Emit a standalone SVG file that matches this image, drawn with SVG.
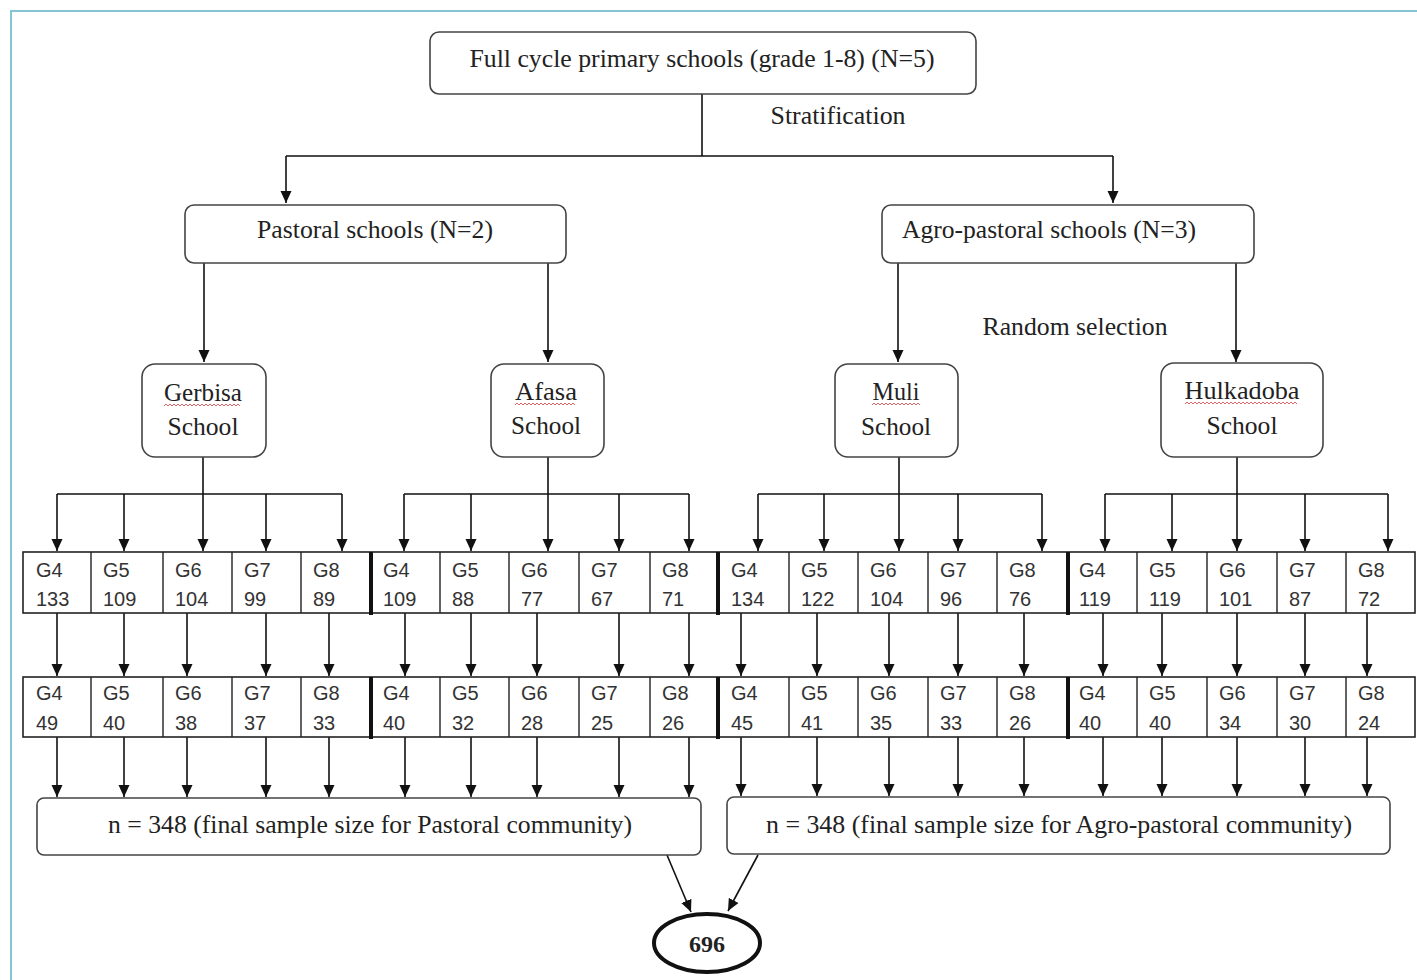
<svg xmlns="http://www.w3.org/2000/svg" width="1417" height="980" viewBox="0 0 1417 980">
<defs>
<marker id="ah" markerUnits="userSpaceOnUse" markerWidth="12" markerHeight="12" refX="12" refY="6" orient="auto"><path d="M0,0.5 L12,6 L0,11.5 z" fill="#111"/></marker>
<style>
.box{fill:#fff;stroke:#444;stroke-width:1.6}
.lbl{font-family:"Liberation Serif","Times New Roman",serif;font-size:25px;fill:#222;text-anchor:middle}
.cell{font-family:"Liberation Sans",Arial,sans-serif;font-size:20px;fill:#333}
.con{fill:none;stroke:#111;stroke-width:1.6}
.arr{fill:none;stroke:#111;stroke-width:1.6;marker-end:url(#ah)}
.tbl{fill:#fff;stroke:#222;stroke-width:1.6}
.div{stroke:#222;stroke-width:1.4}
.thick{stroke:#111;stroke-width:4}
.sq{fill:none;stroke:#d66;stroke-width:1}
</style>
</defs>
<rect x="0" y="0" width="1417" height="980" fill="#fff"/>
<path d="M11,980 L11,11 L1417,11" fill="none" stroke="#86c6d4" stroke-width="2"/>

<g id="connectors">
<path class="con" d="M702,94 V156 M286,156 H1113"/>
<path class="arr" d="M286,156 V203"/>
<path class="arr" d="M1113,156 V203"/>
<path class="arr" d="M204,263 V362"/>
<path class="arr" d="M548,263 V362"/>
<path class="arr" d="M898,263 V362"/>
<path class="arr" d="M1236,263 V362"/>
<!-- school to grade bars -->
<path class="con" d="M203,457 V494 M57,494 H342"/>
<path class="con" d="M548,457 V494 M404,494 H689"/>
<path class="con" d="M899,457 V494 M758,494 H1042"/>
<path class="con" d="M1237,457 V494 M1105,494 H1388"/>
<path class="arr" d="M57,494 V551"/><path class="arr" d="M124,494 V551"/><path class="arr" d="M203,494 V551"/><path class="arr" d="M266,494 V551"/><path class="arr" d="M342,494 V551"/>
<path class="arr" d="M404,494 V551"/><path class="arr" d="M471,494 V551"/><path class="arr" d="M548,494 V551"/><path class="arr" d="M619,494 V551"/><path class="arr" d="M689,494 V551"/>
<path class="arr" d="M758,494 V551"/><path class="arr" d="M824,494 V551"/><path class="arr" d="M899,494 V551"/><path class="arr" d="M958,494 V551"/><path class="arr" d="M1042,494 V551"/>
<path class="arr" d="M1105,494 V551"/><path class="arr" d="M1172,494 V551"/><path class="arr" d="M1237,494 V551"/><path class="arr" d="M1305,494 V551"/><path class="arr" d="M1388,494 V551"/>
<!-- row1 to row2 -->
<path class="arr" d="M57,613 V676"/><path class="arr" d="M124,613 V676"/><path class="arr" d="M187,613 V676"/><path class="arr" d="M266,613 V676"/><path class="arr" d="M329,613 V676"/>
<path class="arr" d="M405,613 V676"/><path class="arr" d="M471,613 V676"/><path class="arr" d="M537,613 V676"/><path class="arr" d="M619,613 V676"/><path class="arr" d="M689,613 V676"/>
<path class="arr" d="M741,613 V676"/><path class="arr" d="M817,613 V676"/><path class="arr" d="M889,613 V676"/><path class="arr" d="M958,613 V676"/><path class="arr" d="M1024,613 V676"/>
<path class="arr" d="M1103,613 V676"/><path class="arr" d="M1162,613 V676"/><path class="arr" d="M1237,613 V676"/><path class="arr" d="M1305,613 V676"/><path class="arr" d="M1367,613 V676"/>
<!-- row2 to totals -->
<path class="arr" d="M57,737 V797"/><path class="arr" d="M124,737 V797"/><path class="arr" d="M187,737 V797"/><path class="arr" d="M266,737 V797"/><path class="arr" d="M329,737 V797"/>
<path class="arr" d="M405,737 V797"/><path class="arr" d="M471,737 V797"/><path class="arr" d="M537,737 V797"/><path class="arr" d="M619,737 V797"/><path class="arr" d="M689,737 V797"/>
<path class="arr" d="M741,737 V796"/><path class="arr" d="M817,737 V796"/><path class="arr" d="M889,737 V796"/><path class="arr" d="M958,737 V796"/><path class="arr" d="M1024,737 V796"/>
<path class="arr" d="M1103,737 V796"/><path class="arr" d="M1162,737 V796"/><path class="arr" d="M1237,737 V796"/><path class="arr" d="M1305,737 V796"/><path class="arr" d="M1367,737 V796"/>
<!-- to 696 -->
<path class="arr" d="M667,855 L691,912"/>
<path class="arr" d="M758,855 L728,911"/>
</g>

<g id="n-full">
<rect class="box" x="430" y="32" width="546" height="62" rx="9"/>
<text class="lbl" x="702" y="67" textLength="465" lengthAdjust="spacingAndGlyphs">Full cycle primary schools (grade 1-8) (N=5)</text>
</g>
<g id="l-strat"><text class="lbl" x="838" y="124" textLength="135" lengthAdjust="spacingAndGlyphs">Stratification</text></g>
<g id="n-pastoral">
<rect class="box" x="185" y="205" width="381" height="58" rx="9"/>
<text class="lbl" x="375" y="238" textLength="236" lengthAdjust="spacingAndGlyphs">Pastoral schools (N=2)</text>
</g>
<g id="n-agro">
<rect class="box" x="882" y="205" width="372" height="58" rx="9"/>
<text class="lbl" x="1049" y="238" textLength="294" lengthAdjust="spacingAndGlyphs">Agro-pastoral schools (N=3)</text>
</g>
<g id="l-random"><text class="lbl" x="1075" y="335" textLength="185" lengthAdjust="spacingAndGlyphs">Random selection</text></g>

<g id="n-gerbisa">
<rect class="box" x="142" y="364" width="124" height="93" rx="13"/>
<text class="lbl" x="203" y="401" textLength="78" lengthAdjust="spacingAndGlyphs">Gerbisa</text>
<text class="lbl" x="203" y="435" textLength="71" lengthAdjust="spacingAndGlyphs">School</text>
<path class="sq" d="M164,406 l2,-2 l2,2 l2,-2 l2,2 l2,-2 l2,2 l2,-2 l2,2 l2,-2 l2,2 l2,-2 l2,2 l2,-2 l2,2 l2,-2 l2,2 l2,-2 l2,2 l2,-2 l2,2 l2,-2 l2,2 l2,-2 l2,2 l2,-2 l2,2 l2,-2 l2,2 l2,-2 l2,2 l2,-2 l2,2 l2,-2 l2,2 l2,-2 l2,2 l2,-2 l2,2"/>
</g>
<g id="n-afasa">
<rect class="box" x="491" y="364" width="113" height="93" rx="13"/>
<text class="lbl" x="546" y="400" textLength="62" lengthAdjust="spacingAndGlyphs">Afasa</text>
<text class="lbl" x="546" y="434" textLength="70" lengthAdjust="spacingAndGlyphs">School</text>
<path class="sq" d="M515,405 l2,-2 l2,2 l2,-2 l2,2 l2,-2 l2,2 l2,-2 l2,2 l2,-2 l2,2 l2,-2 l2,2 l2,-2 l2,2 l2,-2 l2,2 l2,-2 l2,2 l2,-2 l2,2 l2,-2 l2,2 l2,-2 l2,2 l2,-2 l2,2 l2,-2 l2,2 l2,-2 l2,2"/>
</g>
<g id="n-muli">
<rect class="box" x="835" y="364" width="123" height="93" rx="13"/>
<text class="lbl" x="896" y="400" textLength="47" lengthAdjust="spacingAndGlyphs">Muli</text>
<text class="lbl" x="896" y="435" textLength="70" lengthAdjust="spacingAndGlyphs">School</text>
<path class="sq" d="M872,405 l2,-2 l2,2 l2,-2 l2,2 l2,-2 l2,2 l2,-2 l2,2 l2,-2 l2,2 l2,-2 l2,2 l2,-2 l2,2 l2,-2 l2,2 l2,-2 l2,2 l2,-2 l2,2 l2,-2 l2,2 l2,-2 l2,2"/>
</g>
<g id="n-hulkadoba">
<rect class="box" x="1161" y="363" width="162" height="94" rx="13"/>
<text class="lbl" x="1242" y="399" textLength="115" lengthAdjust="spacingAndGlyphs">Hulkadoba</text>
<text class="lbl" x="1242" y="434" textLength="71" lengthAdjust="spacingAndGlyphs">School</text>
<path class="sq" d="M1185,404 l2,-2 l2,2 l2,-2 l2,2 l2,-2 l2,2 l2,-2 l2,2 l2,-2 l2,2 l2,-2 l2,2 l2,-2 l2,2 l2,-2 l2,2 l2,-2 l2,2 l2,-2 l2,2 l2,-2 l2,2 l2,-2 l2,2 l2,-2 l2,2 l2,-2 l2,2 l2,-2 l2,2 l2,-2 l2,2 l2,-2 l2,2 l2,-2 l2,2 l2,-2 l2,2 l2,-2 l2,2 l2,-2 l2,2 l2,-2 l2,2 l2,-2 l2,2 l2,-2 l2,2 l2,-2 l2,2 l2,-2 l2,2 l2,-2 l2,2 l2,-2 l2,2"/>
</g>

<!-- Row 1: population per grade -->
<g id="n-row1">
<rect class="tbl" x="23" y="552" width="1392" height="61"/>
<path class="div" d="M91,552V613 M163,552V613 M232,552V613 M301,552V613 M440,552V613 M509,552V613 M579,552V613 M650,552V613 M789,552V613 M858,552V613 M928,552V613 M997,552V613 M1137,552V613 M1207,552V613 M1277,552V613 M1346,552V613"/>
<path class="thick" d="M371,552V615 M718,552V615 M1068,552V615"/>
</g>
<g id="n-row1-gerbisa" class="cell">
<text x="36" y="577">G4</text><text x="36" y="606">133</text>
<text x="103" y="577">G5</text><text x="103" y="606">109</text>
<text x="175" y="577">G6</text><text x="175" y="606">104</text>
<text x="244" y="577">G7</text><text x="244" y="606">99</text>
<text x="313" y="577">G8</text><text x="313" y="606">89</text>
</g>
<g id="n-row1-afasa" class="cell">
<text x="383" y="577">G4</text><text x="383" y="606">109</text>
<text x="452" y="577">G5</text><text x="452" y="606">88</text>
<text x="521" y="577">G6</text><text x="521" y="606">77</text>
<text x="591" y="577">G7</text><text x="591" y="606">67</text>
<text x="662" y="577">G8</text><text x="662" y="606">71</text>
</g>
<g id="n-row1-muli" class="cell">
<text x="731" y="577">G4</text><text x="731" y="606">134</text>
<text x="801" y="577">G5</text><text x="801" y="606">122</text>
<text x="870" y="577">G6</text><text x="870" y="606">104</text>
<text x="940" y="577">G7</text><text x="940" y="606">96</text>
<text x="1009" y="577">G8</text><text x="1009" y="606">76</text>
</g>
<g id="n-row1-hulkadoba" class="cell">
<text x="1079" y="577">G4</text><text x="1079" y="606">119</text>
<text x="1149" y="577">G5</text><text x="1149" y="606">119</text>
<text x="1219" y="577">G6</text><text x="1219" y="606">101</text>
<text x="1289" y="577">G7</text><text x="1289" y="606">87</text>
<text x="1358" y="577">G8</text><text x="1358" y="606">72</text>
</g>

<!-- Row 2: samples per grade -->
<g id="n-row2">
<rect class="tbl" x="23" y="677" width="1392" height="60"/>
<path class="div" d="M91,677V737 M163,677V737 M232,677V737 M301,677V737 M440,677V737 M509,677V737 M579,677V737 M650,677V737 M789,677V737 M858,677V737 M928,677V737 M997,677V737 M1137,677V737 M1207,677V737 M1277,677V737 M1346,677V737"/>
<path class="thick" d="M371,677V739 M718,677V739 M1068,677V739"/>
</g>
<g id="n-row2-gerbisa" class="cell">
<text x="36" y="700">G4</text><text x="36" y="730">49</text>
<text x="103" y="700">G5</text><text x="103" y="730">40</text>
<text x="175" y="700">G6</text><text x="175" y="730">38</text>
<text x="244" y="700">G7</text><text x="244" y="730">37</text>
<text x="313" y="700">G8</text><text x="313" y="730">33</text>
</g>
<g id="n-row2-afasa" class="cell">
<text x="383" y="700">G4</text><text x="383" y="730">40</text>
<text x="452" y="700">G5</text><text x="452" y="730">32</text>
<text x="521" y="700">G6</text><text x="521" y="730">28</text>
<text x="591" y="700">G7</text><text x="591" y="730">25</text>
<text x="662" y="700">G8</text><text x="662" y="730">26</text>
</g>
<g id="n-row2-muli" class="cell">
<text x="731" y="700">G4</text><text x="731" y="730">45</text>
<text x="801" y="700">G5</text><text x="801" y="730">41</text>
<text x="870" y="700">G6</text><text x="870" y="730">35</text>
<text x="940" y="700">G7</text><text x="940" y="730">33</text>
<text x="1009" y="700">G8</text><text x="1009" y="730">26</text>
</g>
<g id="n-row2-hulkadoba" class="cell">
<text x="1079" y="700">G4</text><text x="1079" y="730">40</text>
<text x="1149" y="700">G5</text><text x="1149" y="730">40</text>
<text x="1219" y="700">G6</text><text x="1219" y="730">34</text>
<text x="1289" y="700">G7</text><text x="1289" y="730">30</text>
<text x="1358" y="700">G8</text><text x="1358" y="730">24</text>
</g>

<g id="n-total-pastoral">
<rect class="box" x="37" y="798" width="664" height="57" rx="7"/>
<text class="lbl" x="370" y="833" textLength="524" lengthAdjust="spacingAndGlyphs">n = 348 (final sample size for Pastoral community)</text>
</g>
<g id="n-total-agro">
<rect class="box" x="727" y="797" width="663" height="57" rx="7"/>
<text class="lbl" x="1059" y="833" textLength="586" lengthAdjust="spacingAndGlyphs">n = 348 (final sample size for Agro-pastoral community)</text>
</g>
<g id="n-696">
<ellipse cx="707" cy="943" rx="53" ry="29" fill="#fff" stroke="#111" stroke-width="4"/>
<text x="707" y="952" text-anchor="middle" font-family="'Liberation Serif','Times New Roman',serif" font-size="24" font-weight="bold" fill="#222">696</text>
</g>
</svg>
